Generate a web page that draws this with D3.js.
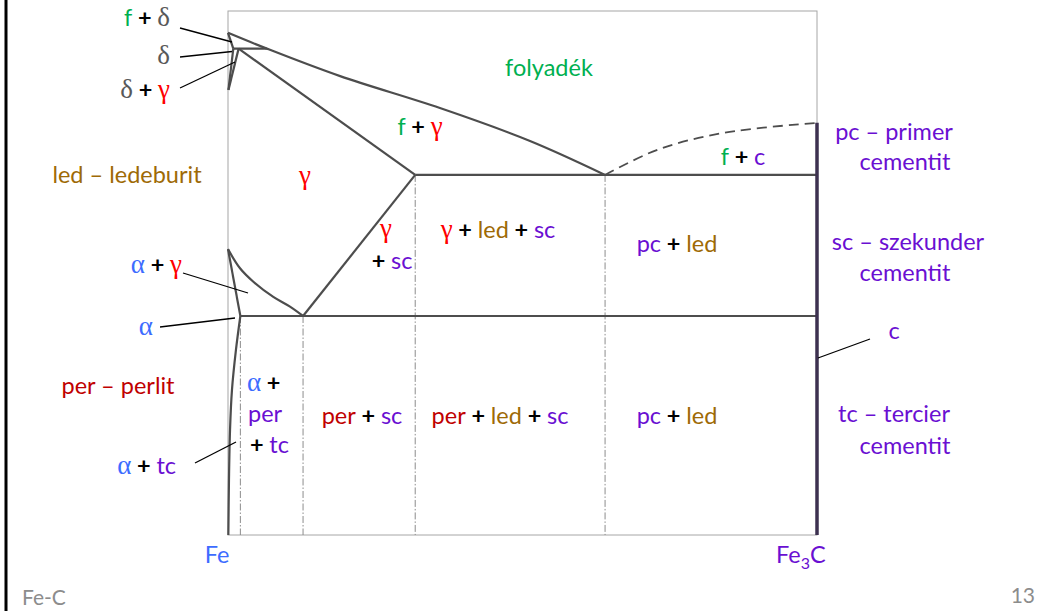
<!DOCTYPE html>
<html>
<head>
<meta charset="utf-8">
<script src="https://cdn.jsdelivr.net/npm/d3@7"></script>
<style>
  body { margin: 0; background: #fff; }
  svg text { font-family: Lato, "Open Sans", sans-serif; }
</style>
</head>
<body>
<div id="chart"></div>
<script>
// Fe-C diagram, carbon % vs temperature (schematic)
var liquidus = [[0, 1570], [0.44, 1523], [1.27, 1441], [2.40, 1346], [3.42, 1248], [4.27, 1147]];
var liquidusDashed = [[4.27, 1147], [4.855, 1221], [5.605, 1272], [6.67, 1302]];
var deltaSolidus = [[0, 1570], [0.06, 1523]];
var peritectic = [[0.06, 1523], [0.44, 1523]];
var deltaGamma1 = [[0.06, 1523], [0.005, 1400]];
var deltaGamma2 = [[0.12, 1523], [0.005, 1400]];
var gammaSolidus = [[0.12, 1523], [2.12, 1147]];
var eutectic = [[2.12, 1147], [6.67, 1147]];
var acm = [[0.85, 727], [2.12, 1147]];
var gsCurve = [[0, 926], [0.136, 869], [0.287, 829], [0.513, 784], [0.702, 755], [0.85, 727]];
var gpLine = [[0, 926], [0.14, 727]];
var eutectoid = [[0.14, 727], [6.67, 727]];
var solvus = [[0.14, 727], [0.09, 626], [0.045, 507], [0.023, 388], [0.011, 239], [0.004, 75]];
var dropLines = [[0.14, 727], [0.85, 727], [2.12, 1147], [4.27, 1147]];
var fe3cLine = [[6.67, 1302], [6.67, 75]];
var carbonDomain = [0, 6.67];
var tempDomain = [1635, 75];

var width = 1037, height = 611;
var svg = d3.select("#chart").append("svg")
  .attr("width", width).attr("height", height);

var x = d3.scaleLinear().domain(carbonDomain).range([228, 817]);
var y = d3.scaleLinear().domain(tempDomain).range([11, 535]);

var GREEN = "#00b050", RED = "#ff0000", DRED = "#c00000", BLUE = "#3d6cff",
    PURP = "#6a0fd2", BROWN = "#9e6a06", GREY = "#595959", BLK = "#000";

// slide border
svg.append("line").attr("x1", 6).attr("x2", 6).attr("y1", 0).attr("y2", height)
  .attr("stroke", "#000").attr("stroke-width", 3);

// frame
svg.append("rect")
  .attr("x", x(0)).attr("y", y(tempDomain[0]))
  .attr("width", x(6.67) - x(0)).attr("height", y(tempDomain[1]) - y(tempDomain[0]))
  .attr("fill", "none").attr("stroke", "#a6a6a6").attr("stroke-width", 1);

// drop lines (dash-dot)
svg.selectAll(".drop").data(dropLines).enter().append("line")
  .attr("class", "drop")
  .attr("x1", function(d){ return x(d[0]); })
  .attr("x2", function(d){ return x(d[0]); })
  .attr("y1", function(d){ return y(d[1]); })
  .attr("y2", y(tempDomain[1]))
  .attr("stroke", "#8c8c8c").attr("stroke-width", 1)
  .attr("stroke-dasharray", "7,2,1.5,2");

var line = d3.line().x(function(d){ return x(d[0]); }).y(function(d){ return y(d[1]); });
var curve = d3.line().x(function(d){ return x(d[0]); }).y(function(d){ return y(d[1]); })
  .curve(d3.curveCatmullRom);

var straight = [deltaSolidus, peritectic, deltaGamma1, deltaGamma2, gammaSolidus, eutectic, acm, gpLine, eutectoid];
svg.selectAll(".phase").data(straight).enter().append("path")
  .attr("class", "phase")
  .attr("d", line)
  .attr("fill", "none").attr("stroke", "#4d4d4d").attr("stroke-width", 2.2);

[liquidus, gsCurve, solvus].forEach(function(c){
  svg.append("path").attr("d", curve(c))
    .attr("fill", "none").attr("stroke", "#4d4d4d").attr("stroke-width", 2.2);
});

svg.append("path").attr("d", curve(liquidusDashed))
  .attr("fill", "none").attr("stroke", "#4d4d4d").attr("stroke-width", 1.8)
  .attr("stroke-dasharray", "10,6");

svg.append("path").attr("d", line(fe3cLine))
  .attr("fill", "none").attr("stroke", "#3d3150").attr("stroke-width", 3.5);

// leader lines
var leaders = [
  [180, 28, 232, 42], [180, 57, 232, 51.5], [180, 88, 235, 62],
  [183, 273, 248, 293], [160, 327, 235, 318], [195, 463, 236, 442],
  [870, 339, 818, 358]
];
svg.selectAll(".leader").data(leaders).enter().append("line")
  .attr("x1", function(d){ return d[0]; }).attr("y1", function(d){ return d[1]; })
  .attr("x2", function(d){ return d[2]; }).attr("y2", function(d){ return d[3]; })
  .attr("stroke", "#000").attr("stroke-width", 1.3);

// labels: parts are [text, color, greek]
function label(px, py, anchor, parts, size) {
  var t = svg.append("text").attr("x", px).attr("y", py)
    .attr("text-anchor", anchor).attr("font-size", size || 23.5);
  parts.forEach(function(p){
    var s = t.append("tspan").text(p[0]).attr("fill", p[1]);
    if (p[0].trim() === "+") s.attr("font-weight", "bold");
    if (p[2]) s.attr("font-family", "'Liberation Serif', 'DejaVu Serif', serif").attr("font-size", 27);
  });
  return t;
}

label(170, 26, "end", [["f", GREEN], [" + ", BLK], ["δ", GREY, 1]]);
label(170, 64, "end", [["δ", GREY, 1]]);
label(170, 98, "end", [["δ", GREY, 1], [" + ", BLK], ["γ", RED, 1]]);
label(127, 183, "middle", [["led – ledeburit", BROWN]]);
label(182, 273, "end", [["α", BLUE, 1], [" + ", BLK], ["γ", RED, 1]]);
label(153, 335, "end", [["α", BLUE, 1]]);
label(118, 394, "middle", [["per – perlit", DRED]]);
label(176, 474, "end", [["α", BLUE, 1], [" + ", BLK], ["tc", PURP]]);

label(549, 76, "middle", [["folyadék", GREEN]]);
label(420, 135, "middle", [["f", GREEN], [" + ", BLK], ["γ", RED, 1]]);
label(305, 184, "middle", [["γ", RED, 1]]);
label(743, 165, "middle", [["f", GREEN], [" + ", BLK], ["c", PURP]]);
label(386, 237, "middle", [["γ", RED, 1]]);
label(392, 269, "middle", [["+ ", BLK], ["sc", PURP]]);
label(498, 238, "middle", [["γ", RED, 1], [" + ", BLK], ["led", BROWN], [" + ", BLK], ["sc", PURP]]);
label(677, 252, "middle", [["pc", PURP], [" + ", BLK], ["led", BROWN]]);
label(247, 391, "start", [["α", BLUE, 1], [" +", BLK]]);
label(248, 422, "start", [["per", PURP]]);
label(250, 453, "start", [["+ ", BLK], ["tc", PURP]]);
label(362, 424, "middle", [["per", DRED], [" + ", BLK], ["sc", PURP]]);
label(500, 424, "middle", [["per", DRED], [" + ", BLK], ["led", BROWN], [" + ", BLK], ["sc", PURP]]);
label(677, 424, "middle", [["pc", PURP], [" + ", BLK], ["led", BROWN]]);

label(894, 140, "middle", [["pc – primer", PURP]]);
label(905, 170, "middle", [["cementit", PURP]]);
label(908, 250, "middle", [["sc – szekunder", PURP]]);
label(905, 281, "middle", [["cementit", PURP]]);
label(894, 339, "middle", [["c", PURP]]);
label(894, 422, "middle", [["tc – tercier", PURP]]);
label(905, 454, "middle", [["cementit", PURP]]);

label(217, 563, "middle", [["Fe", BLUE]]);
var fe3c = label(776, 563, "start", [["Fe", PURP]]);
fe3c.append("tspan").text("3").attr("fill", PURP).attr("font-size", 16).attr("dy", 6);
fe3c.append("tspan").text("C").attr("fill", PURP).attr("dy", -6);

svg.append("text").attr("x", 22).attr("y", 605).attr("font-size", 21)
  .attr("fill", "#8c8c8c").text("Fe-C");
svg.append("text").attr("x", 1035).attr("y", 603).attr("font-size", 21)
  .attr("text-anchor", "end").attr("fill", "#8c8c8c").text("13");
</script>
</body>
</html>
